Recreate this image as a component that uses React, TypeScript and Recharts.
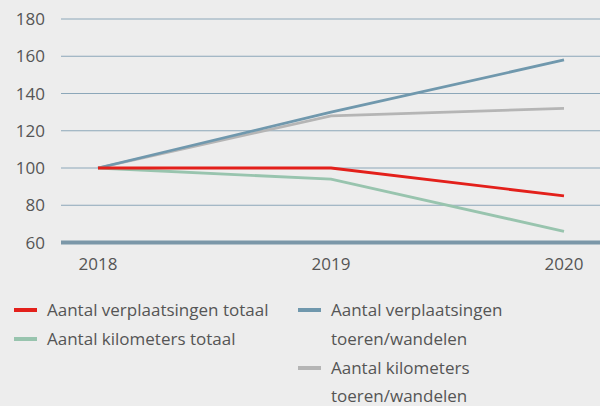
import { LineChart, Line, XAxis, YAxis, CartesianGrid, Legend } from 'recharts'

const years = ['2018', '2019', '2020']
const verplaatsingenTotaal = [100, 100, 85]
const kilometersTotaal = [100, 94, 66]
const verplaatsingenToeren = [100, 130, 158]
const kilometersToeren = [100, 128, 132]
const yTicks = [60, 80, 100, 120, 140, 160, 180]

// legend labels, split where the reference wraps them
const series = [
  { key: 'vt', lines: ['Aantal verplaatsingen totaal'], color: '#e3201b', values: verplaatsingenTotaal },
  { key: 'kt', lines: ['Aantal kilometers totaal'], color: '#98c4ae', values: kilometersTotaal },
  { key: 'vw', lines: ['Aantal verplaatsingen', 'toeren/wandelen'], color: '#7098ad', values: verplaatsingenToeren },
  { key: 'kw', lines: ['Aantal kilometers', 'toeren/wandelen'], color: '#b5b5b5', values: kilometersToeren },
]

const data = years.map((year, i) => {
  const row: Record<string, string | number> = { year }
  series.forEach((s) => {
    row[s.key] = s.values[i]
  })
  return row
})

const FONT = '"Open Sans", sans-serif'
const TEXT = '#555555'

const LegendItem = ({ color, lines, last }: { color: string; lines: string[]; last?: boolean }) => (
  <div style={{ display: 'flex', alignItems: 'flex-start' }}>
    <span
      style={{
        display: 'inline-block',
        width: 23,
        height: 4,
        background: color,
        marginTop: 13,
        marginRight: 10,
        flexShrink: 0,
      }}
    />
    <div>
      {lines.map((l, i) =>
        last && i === lines.length - 1 && i > 0 ? (
          <div key={i} style={{ lineHeight: '20px', paddingTop: 4 }}>
            {l}
          </div>
        ) : (
          <div key={i}>{l}</div>
        )
      )}
    </div>
  </div>
)

const CustomLegend = () => (
  <div
    style={{
      display: 'flex',
      fontFamily: FONT,
      fontSize: 17,
      lineHeight: '29px',
      color: TEXT,
      textAlign: 'left',
    }}
  >
    <div style={{ width: 284, paddingLeft: 14 }}>
      <LegendItem color={series[0].color} lines={series[0].lines} />
      <LegendItem color={series[1].color} lines={series[1].lines} />
    </div>
    <div style={{ width: 280 }}>
      <LegendItem color={series[2].color} lines={series[2].lines} />
      <LegendItem color={series[3].color} lines={series[3].lines} last />
    </div>
  </div>
)

export default function App() {
  return (
    <div style={{ width: 600, height: 406, background: '#ededed', position: 'relative' }}>
      <style>{`body{margin:0}`}</style>
      <LineChart width={600} height={406} data={data} margin={{ top: 19, right: 0, bottom: 124.5, left: 0 }}>
        <CartesianGrid vertical={false} stroke="#8ca7b9" strokeWidth={1} />
        <XAxis
          dataKey="year"
          padding={{ left: 37, right: 36 }}
          height={39}
          tickLine={false}
          tickSize={0}
          tickMargin={15}
          axisLine={{ stroke: '#7b97a8', strokeWidth: 4 }}
          tick={{ fill: TEXT, fontSize: 17, fontFamily: FONT }}
        />
        <YAxis
          domain={[60, 180]}
          ticks={yTicks}
          width={61}
          axisLine={false}
          tickLine={false}
          tickSize={0}
          tickMargin={16}
          tick={{ fill: TEXT, fontSize: 17, fontFamily: FONT }}
        />
        <Legend
          layout="horizontal"
          verticalAlign="middle"
          align="center"
          wrapperStyle={{ top: 295, left: 0, width: 600 }}
          content={() => <CustomLegend />}
        />
        {[series[3], series[2], series[1], series[0]].map((s) => (
          <Line
            key={s.key}
            type="linear"
            dataKey={s.key}
            name={s.lines.join(' ')}
            stroke={s.color}
            strokeWidth={2.8}
            dot={false}
            activeDot={false}
            isAnimationActive={false}
          />
        ))}
      </LineChart>
    </div>
  )
}
